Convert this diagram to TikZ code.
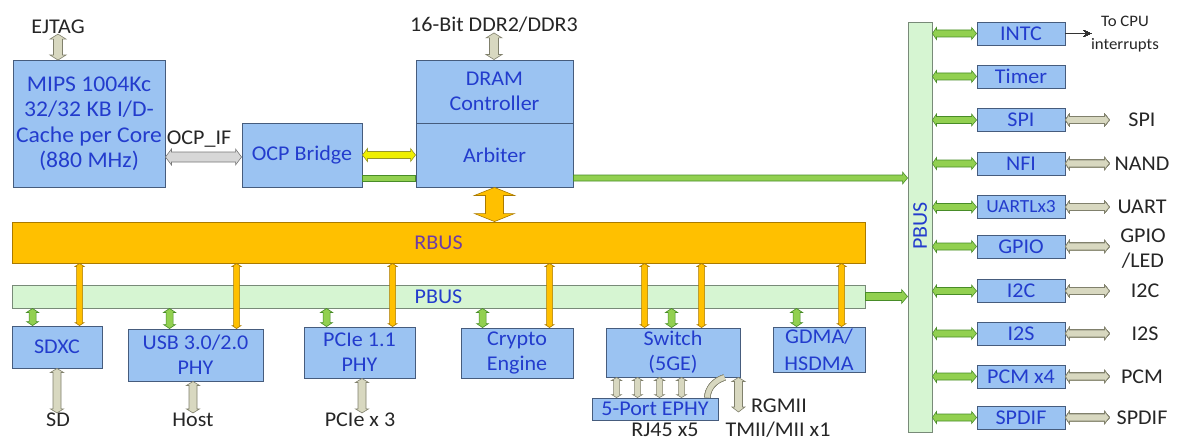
\documentclass[tikz,border=0pt]{standalone}
\usepackage{fontspec}
\setmainfont{Carlito}[FakeStretch=1.05]
\usetikzlibrary{calc,arrows.meta}

\definecolor{boxfill}{RGB}{155,195,242}
\definecolor{boxedge}{RGB}{70,92,125}
\definecolor{boxtext}{RGB}{35,60,205}
\definecolor{rbusfill}{RGB}{255,192,0}
\definecolor{rbusedge}{RGB}{170,122,0}
\definecolor{rbustext}{RGB}{110,60,165}
\definecolor{pbusfill}{RGB}{214,245,210}
\definecolor{pbusedge}{RGB}{120,138,120}
\definecolor{grn}{RGB}{146,208,80}
\definecolor{grnedge}{RGB}{72,140,40}
\definecolor{khaki}{RGB}{216,216,192}
\definecolor{khakiedge}{RGB}{128,128,108}
\definecolor{lgrey}{RGB}{215,215,215}
\definecolor{lgreyedge}{RGB}{120,120,120}
\definecolor{yel}{RGB}{240,240,0}
\definecolor{yeledge}{RGB}{150,150,40}

\newcommand\fsmain{\fontsize{21}{25}\selectfont}
\newcommand\fscpu{\fontsize{22.5}{25.5}\selectfont}
\newcommand\fsuart{\fontsize{18.5}{25}\selectfont}
\newcommand\fssmall{\fontsize{16}{23}\selectfont}

% Vertical block arrow.
% #1 style, #2 point giving x, #3 point giving top y, #4 point giving bottom y,
% #5 shaft half width, #6/#7 top head half width/length, #8/#9 bottom head half width/length
\newcommand\blockv[9]{%
  \path[#1] let \p1=#2, \p2=#3, \p3=#4 in
    (\x1,\y2) -- (\x1+#6,\y2-#7) -- (\x1+#5,\y2-#7) -- (\x1+#5,\y3+#9) -- (\x1+#8,\y3+#9) -- (\x1,\y3)
    -- (\x1-#8,\y3+#9) -- (\x1-#5,\y3+#9) -- (\x1-#5,\y2-#7) -- (\x1-#6,\y2-#7) -- cycle;}

% Horizontal block arrow.
% #1 style, #2 point giving y, #3 point giving left x, #4 point giving right x,
% #5 shaft half width, #6/#7 left head half width/length, #8/#9 right head half width/length
\newcommand\blockh[9]{%
  \path[#1] let \p1=#2, \p2=#3, \p3=#4 in
    (\x2,\y1) -- (\x2+#7,\y1+#6) -- (\x2+#7,\y1+#5) -- (\x3-#9,\y1+#5) -- (\x3-#9,\y1+#8) -- (\x3,\y1)
    -- (\x3-#9,\y1-#8) -- (\x3-#9,\y1-#5) -- (\x2+#7,\y1-#5) -- (\x2+#7,\y1-#6) -- cycle;}

\begin{document}
\begin{tikzpicture}[x=1pt,y=-1pt,
  box/.style={draw=boxedge, fill=boxfill, line width=0.9pt, text=boxtext,
    align=center, inner sep=0pt, font=\fsmain},
  lbl/.style={align=center, inner sep=0pt, font=\fsmain, text=black!85},
  garrow/.style={fill=grn, draw=grnedge, line width=0.6pt},
  karrow/.style={fill=khaki, draw=khakiedge, line width=0.6pt},
  oarrow/.style={fill=rbusfill, draw=rbusedge, line width=0.6pt},
  larrow/.style={fill=lgrey, draw=lgreyedge, line width=0.6pt},
  yarrow/.style={fill=yel, draw=yeledge, line width=0.6pt},
  bus/.style={draw=pbusedge, fill=pbusfill, line width=0.9pt, inner sep=0pt,
    font=\fsmain, text=boxtext}]

\useasboundingbox (0,0) rectangle (1177,441);
\fill[white] (0,0) rectangle (1177,441);

% ---------- CPU, bridge and memory ----------
\node[lbl] (ejtag) at (58,27) {EJTAG};
\node[box, font=\fscpu, minimum width=152pt, minimum height=127pt] (mips) at (89,124)
  {MIPS 1004Kc\\32/32 KB I/D-\\Cache per Core\\(880 MHz)};
\node[box, minimum width=120pt, minimum height=64pt] (ocp) at (302,155) {OCP Bridge};
\node[lbl] (ocpif) at (199,139) {OCP\_IF};
\node[lbl] (ddr) at (494,25) {16-Bit DDR2/DDR3};
\node[box, minimum width=157pt, minimum height=63pt] (dramc) at (494.5,91.5) {DRAM\\Controller};
\node[box, minimum width=157pt, minimum height=64pt] (arb) at (494.5,155) {Arbiter};

% ---------- buses ----------
\node[draw=rbusedge, fill=rbusfill, line width=0.9pt, inner sep=0pt, font=\fsmain,
  text=rbustext, minimum width=853pt, minimum height=41pt] (rbus) at (438.5,242.5) {RBUS};
\node[bus, minimum width=853pt, minimum height=23pt] (pbush) at (438.5,296.5) {PBUS};
\node[bus, minimum width=24pt, minimum height=410pt] (pbusv) at (920,227) {};
\node[font=\fsmain, text=boxtext, rotate=90, inner sep=0pt] (pbusvlbl) at (920,226) {PBUS};

% ---------- bottom peripherals ----------
\node[box, minimum width=90pt, minimum height=42pt] (sdxc) at (57,347) {SDXC};
\node[box, minimum width=135pt, minimum height=52pt] (usb) at (195.5,355) {USB 3.0/2.0\\PHY};
\node[box, minimum width=111pt, minimum height=51pt] (pcie) at (359.5,352.5) {PCIe 1.1\\PHY};
\node[box, minimum width=112pt, minimum height=50pt] (crypto) at (517,353) {Crypto\\Engine};
\node[box, minimum width=134pt, minimum height=49pt] (switch) at (673,352.5) {Switch\\(5GE)};
\node[box, minimum width=92pt, minimum height=45pt, font=\fontsize{21}{27}\selectfont] (gdma) at (819,349.5) {GDMA/\\HSDMA};
\node[box, minimum width=126pt, minimum height=22pt] (ephy) at (655,409) {5-Port EPHY};

\node[lbl] (lsd) at (58,420) {SD};
\node[lbl] (lhost) at (193,420) {Host};
\node[lbl] (lpcie) at (360,420) {PCIe x 3};
\node[lbl] (lrj) at (665,430) {RJ45 x5};
\node[lbl] (lrgmii) at (779,406) {RGMII};
\node[lbl] (ltmii) at (778,430) {TMII/MII x1};
\coordinate (rgmiiend) at (738,412);

% ---------- right-hand peripherals ----------
\foreach \nm/\txt/\yy/\ft in {intc/INTC/33.5/\fsmain, timer/Timer/76.5/\fsmain,
    spi/SPI/120/\fsmain, nfi/NFI/163.5/\fsmain, uart/UARTLx3/207/\fsuart,
    gpio/GPIO/246.5/\fsmain, itc/I2C/291/\fsmain, its/I2S/333.5/\fsmain,
    pcm/PCM x4/376.5/\fsmain, spdif/SPDIF/417.5/\fsmain}
  \node[box, minimum width=88pt, minimum height=23pt, font=\ft] (\nm) at (1021,\yy) {\txt};

\node[lbl] (lspi) at (1142,120) {SPI};
\node[lbl] (lnand) at (1142,163.5) {NAND};
\node[lbl] (luart) at (1142,207) {UART};
\node[lbl] (lgpio) at (1143,249) {GPIO\\/LED};
\node[lbl] (litc) at (1145,291) {I2C};
\node[lbl] (lits) at (1145,333.5) {I2S};
\node[lbl] (lpcm) at (1142,376.5) {PCM};
\node[lbl] (lspdif) at (1142,417.5) {SPDIF};
\node[align=center, inner sep=0pt, font=\fssmall, text=black!85] (lcpu) at (1125,34) {To CPU\\interrupts};
\coordinate (intcout) at (1091,33.5);

% ---------- connectors: CPU / memory ----------
\blockv{karrow}{(ejtag.south)}{(ejtag.south)}{(mips.north)}{4.5pt}{8pt}{5pt}{8pt}{5pt}
\blockv{karrow}{(ddr.south)}{(ddr.south)}{(dramc.north)}{4.5pt}{8pt}{5pt}{8pt}{5pt}
\blockh{larrow}{([yshift=-2pt]ocp.west)}{(mips.east)}{(ocp.west)}{5pt}{8pt}{6pt}{8pt}{6pt}
\blockh{yarrow}{(ocp.east)}{(ocp.east)}{(arb.west)}{3.5pt}{6.5pt}{5pt}{6.5pt}{5pt}
\blockh{garrow}{([yshift=-23pt]ocp.east)}{(ocp.east)}{(arb.west)}{3pt}{3pt}{0pt}{3pt}{0pt}
\blockh{garrow}{([yshift=-23pt]arb.east)}{(arb.east)}{(pbusv.west)}{3pt}{3pt}{0pt}{6pt}{5pt}
\blockv{oarrow}{(arb.south)}{(arb.south)}{(rbus.north)}{9pt}{20pt}{8pt}{20pt}{8pt}
\blockh{garrow}{(pbush.east)}{(pbush.east)}{(pbusv.west)}{4pt}{4pt}{0pt}{7pt}{6pt}

% ---------- connectors: buses to bottom peripherals ----------
\foreach \nm/\gx/\ox in {sdxc/21/68, usb/42/109, pcie/23/89, crypto/22/89, gdma/24/69}{
  \blockv{garrow}{([xshift=\gx pt]\nm.north west)}{(pbush.south)}{(\nm.north)}{3.5pt}{6pt}{4pt}{6pt}{4pt}
  \blockv{oarrow}{([xshift=\ox pt]\nm.north west)}{(rbus.south)}{(\nm.north)}{3pt}{4.5pt}{3pt}{4.5pt}{3pt}
}
\blockv{garrow}{([xshift=66pt]switch.north west)}{(pbush.south)}{(switch.north)}{3.5pt}{6pt}{4pt}{6pt}{4pt}
\blockv{oarrow}{([xshift=39pt]switch.north west)}{(rbus.south)}{(switch.north)}{3pt}{4.5pt}{3pt}{4.5pt}{3pt}
\blockv{oarrow}{([xshift=96pt]switch.north west)}{(rbus.south)}{(switch.north)}{3pt}{4.5pt}{3pt}{4.5pt}{3pt}

% ---------- connectors: bottom peripherals to the outside ----------
\blockv{karrow}{(sdxc.south)}{(sdxc.south)}{(lsd.north)}{4pt}{6.5pt}{4pt}{6.5pt}{4pt}
\blockv{karrow}{([xshift=-2.5pt]usb.south)}{(usb.south)}{(lhost.north)}{4pt}{6.5pt}{4pt}{6.5pt}{4pt}
\blockv{karrow}{([xshift=2.5pt]pcie.south)}{(pcie.south)}{(lpcie.north)}{4pt}{6.5pt}{4pt}{6.5pt}{4pt}
\foreach \sx in {11,32,54,76}
  \blockv{karrow}{([xshift=\sx pt]switch.south west)}{(switch.south)}{(ephy.north)}{3pt}{5pt}{3pt}{5pt}{3pt}
\draw[khakiedge, double=khaki, double distance=5pt, line width=0.6pt]
  ([xshift=-16pt]switch.south east) .. controls +(-10,3) and +(0,-9) .. ([xshift=-11pt]ephy.north east);
\blockv{karrow}{([xshift=-2pt]switch.south east)}{(switch.south)}{(rgmiiend)}{4pt}{6.5pt}{4pt}{6.5pt}{5pt}

% ---------- connectors: vertical PBUS to right-hand peripherals ----------
\foreach \nm in {intc,timer,spi,nfi,uart,gpio,itc,its,pcm,spdif}
  \blockh{garrow}{(\nm.west)}{(pbusv.east)}{(\nm.west)}{3.5pt}{6pt}{4pt}{6pt}{5pt}
\foreach \nm/\lb in {spi/lspi,nfi/lnand,uart/luart,gpio/lgpio,itc/litc,its/lits,pcm/lpcm,spdif/lspdif}
  \blockh{karrow}{(\nm.east)}{(\nm.east)}{([xshift=44pt]\nm.east)}{3.5pt}{6pt}{4pt}{6pt}{5pt}
\draw[line width=0.8pt, black!80, -{Stealth[length=7pt,width=6pt]}] (intc.east) -- (intcout);

\end{tikzpicture}
\end{document}
